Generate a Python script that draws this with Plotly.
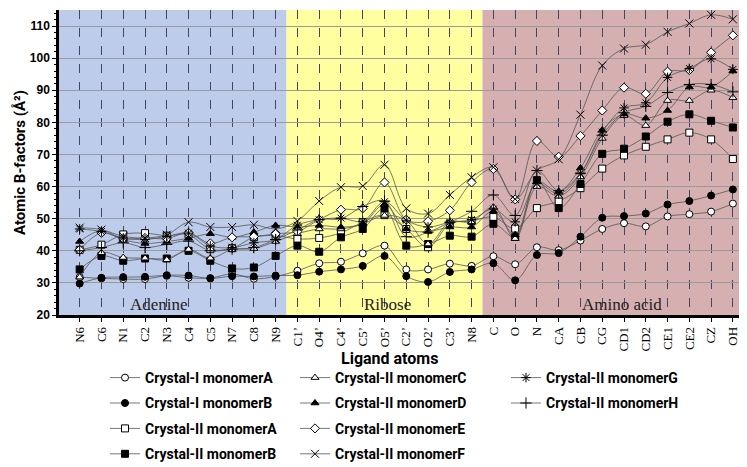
import plotly.graph_objects as go

atoms = ["N6", "C6", "N1", "C2", "N3", "C4", "C5", "N7", "C8", "N9",
         "C1’", "O4’", "C4’", "C5’", "O5’", "C2’", "O2’", "C3’", "N8",
         "C", "O", "N", "CA", "CB", "CG", "CD1", "CD2", "CE1", "CE2", "CZ", "OH"]

cI_A = [31.8, 31.4, 31.2, 31.2, 32.2, 31.6, 31.5, 32.8, 31.3, 32.0, 33.8, 36.1, 36.6, 39.2, 41.6, 34.2, 34.2, 36.0, 35.3,
        38.3, 35.8, 41.1, 40.2, 43.2, 46.8, 48.6, 47.6, 50.7, 51.4, 52.2, 54.7]
cI_B = [29.8, 31.6, 31.8, 31.9, 32.4, 32.3, 31.4, 32.1, 32.0, 32.3, 32.4, 33.5, 34.2, 35.3, 38.4, 32.1, 30.3, 33.4, 34.2,
        36.1, 30.8, 38.7, 39.3, 44.4, 50.3, 50.8, 51.6, 54.4, 55.5, 57.2, 59.1]
cII_A = [40.3, 41.9, 45.1, 45.5, 44.7, 45.0, 40.5, 40.8, 44.2, 44.7, 43.7, 44.0, 45.6, 48.9, 51.1, 46.8, 41.1, 48.4, 49.3,
         50.5, 46.9, 53.3, 55.4, 59.5, 65.6, 69.7, 72.4, 74.7, 76.8, 74.7, 68.6]
cII_B = [34.2, 38.4, 36.9, 37.6, 37.6, 40.0, 36.9, 34.5, 34.8, 38.4, 41.6, 39.7, 44.2, 46.8, 53.2, 41.6, 42.1, 44.7, 44.4,
         48.4, 44.3, 62.0, 53.3, 60.8, 70.2, 71.8, 75.6, 80.2, 82.5, 80.5, 78.4]
cII_C = [31.8, 39.4, 37.9, 37.7, 37.2, 40.4, 37.7, 40.4, 40.7, 42.9, 45.3, 46.8, 46.8, 48.4, 51.0, 49.5, 42.1, 49.0, 49.0,
         53.6, 43.8, 60.0, 57.0, 63.0, 75.0, 82.1, 79.0, 86.8, 86.8, 90.0, 87.7]
cII_D = [42.9, 46.3, 43.5, 42.3, 42.9, 43.9, 45.3, 44.2, 45.8, 47.9, 47.4, 47.9, 47.4, 48.4, 54.4, 46.8, 46.0, 47.4, 47.4,
         52.3, 45.0, 61.5, 58.5, 65.8, 77.6, 82.6, 81.3, 83.7, 91.0, 91.0, 96.0]
cII_E = [40.3, 45.6, 43.7, 44.0, 43.8, 45.6, 42.3, 44.2, 44.4, 45.3, 46.0, 49.7, 52.8, 53.2, 61.3, 49.7, 49.2, 52.6, 61.3,
         65.5, 56.0, 74.2, 69.3, 75.8, 83.7, 90.8, 88.9, 95.8, 96.3, 101.8, 107.1]
cII_F = [47.2, 46.6, 44.5, 44.0, 45.0, 48.9, 47.4, 47.4, 48.1, 46.8, 49.3, 55.5, 59.8, 60.2, 66.8, 53.2, 51.6, 57.4, 62.9,
         66.0, 56.1, 65.0, 68.5, 82.4, 97.7, 103.0, 104.2, 108.2, 110.8, 113.5, 112.1]
cII_G = [46.8, 46.0, 44.0, 43.5, 44.5, 45.5, 41.5, 41.0, 42.5, 43.5, 48.0, 49.7, 50.2, 49.2, 55.3, 49.5, 47.4, 48.9, 49.7,
         53.0, 49.0, 61.0, 57.7, 64.0, 77.0, 84.5, 86.1, 94.0, 96.8, 99.8, 96.5]
cII_H = [40.0, 41.0, 42.5, 41.0, 42.0, 43.0, 40.0, 40.5, 41.0, 43.5, 46.5, 49.7, 50.0, 53.8, 55.5, 44.4, 45.8, 48.9, 52.3,
         57.4, 51.0, 65.0, 58.7, 64.2, 76.0, 83.0, 85.0, 89.3, 91.8, 91.8, 89.5]

region_names = ["Adenine", "Ribose", "Amino acid"]

series = [
    ("Crystal-I monomerA", cI_A, "circle", "white", "legend"),
    ("Crystal-I monomerB", cI_B, "circle", "black", "legend"),
    ("Crystal-II monomerA", cII_A, "square", "white", "legend"),
    ("Crystal-II monomerB", cII_B, "square", "black", "legend"),
    ("Crystal-II monomerC", cII_C, "triangle-up", "white", "legend2"),
    ("Crystal-II monomerD", cII_D, "triangle-up", "black", "legend2"),
    ("Crystal-II monomerE", cII_E, "diamond", "white", "legend2"),
    ("Crystal-II monomerF", cII_F, "x-thin", "black", "legend2"),
    ("Crystal-II monomerG", cII_G, "asterisk", "black", "legend3"),
    ("Crystal-II monomerH", cII_H, "cross-thin", "black", "legend3"),
]

fig = go.Figure()
for name, vals, sym, fill, lg in series:
    size = 8 if sym in ("asterisk", "cross-thin", "x-thin") else 7
    fig.add_trace(go.Scatter(
        x=atoms, y=vals, name=name, mode="lines+markers",
        line=dict(color="#555555", width=0.8, shape="spline", smoothing=1),
        marker=dict(symbol=sym, size=size, color=fill,
                    line=dict(color="black", width=1)),
        legend=lg, legendgroup=name,
    ))

# region backgrounds (category index boundaries)
regions = [(-1.5, 9.5, "#bdcceb"), (9.5, 18.5, "#ffff9f"), (18.5, 31.5, "#d6b0b1")]
for x0, x1, c in regions:
    fig.add_shape(type="rect", xref="x", yref="paper", x0=x0, x1=x1, y0=0, y1=1,
                  fillcolor=c, line=dict(width=0), layer="below")

serif = "Liberation Serif, Times New Roman, serif"
for label, xc in zip(region_names, [3.64, 14.14, 24.93]):
    fig.add_annotation(x=xc, y=23.4, xref="x", yref="y", text=label, showarrow=False,
                       font=dict(family=serif, size=17, color="#222222"))

L, R, T, B = 51, 746, 2, 307


def px(xp):
    return (xp - L) / (R - L)


def py(yp):
    return (B - yp) / (B - T)


sans = "Roboto, Open Sans, sans-serif"
fig.add_annotation(x=px(381), y=py(350), xref="paper", yref="paper", text="Ligand atoms",
                   showarrow=False, yanchor="middle",
                   font=dict(family=sans, size=16, color="black", weight="bold"))
fig.add_annotation(x=px(12), y=py(155), xref="paper", yref="paper", text="Atomic B-factors (Å²)",
                   textangle=-90, showarrow=False, xanchor="center", yanchor="middle",
                   font=dict(family=sans, size=15, color="black", weight="bold"))

legfont = dict(family=sans, size=14, color="black", weight="bold")
common = dict(xref="container", yref="container", xanchor="left", yanchor="top",
              bgcolor="rgba(0,0,0,0)", font=legfont, tracegroupgap=4.2, itemwidth=30)
ltop = 1 - 354 / 467

fig.update_layout(
    width=747, height=467,
    margin=dict(l=L, r=747 - R, t=T, b=467 - B, autoexpand=False),
    paper_bgcolor="white", plot_bgcolor="white",
    xaxis=dict(type="category", range=[-0.95, 30.97], tickangle=-90,
               tickfont=dict(family=serif, size=13, color="black"),
               showgrid=True, gridcolor="#444466", griddash="dash", gridwidth=0.7,
               showline=True, linecolor="black", linewidth=2.5,
               ticks="outside", ticklen=4, tickcolor="black"),
    yaxis=dict(range=[20, 115], dtick=10, tick0=20,
               tickfont=dict(family="Liberation Sans Narrow, Liberation Sans, sans-serif", size=12,
                             color="black", weight="bold"),
               showgrid=True, gridcolor="#9a9a9a", gridwidth=1,
               showline=True, linecolor="black", linewidth=2.5,
               ticks="outside", ticklen=4, tickcolor="black", zeroline=False,
               minor=dict(ticks="outside", ticklen=2, dtick=2, tickcolor="black", showgrid=False)),
    legend=dict(x=97 / 747, y=ltop, **common),
    legend2=dict(x=287 / 747, y=ltop, **common),
    legend3=dict(x=498 / 747, y=ltop, **common),
)

fig.write_html("out.html")
